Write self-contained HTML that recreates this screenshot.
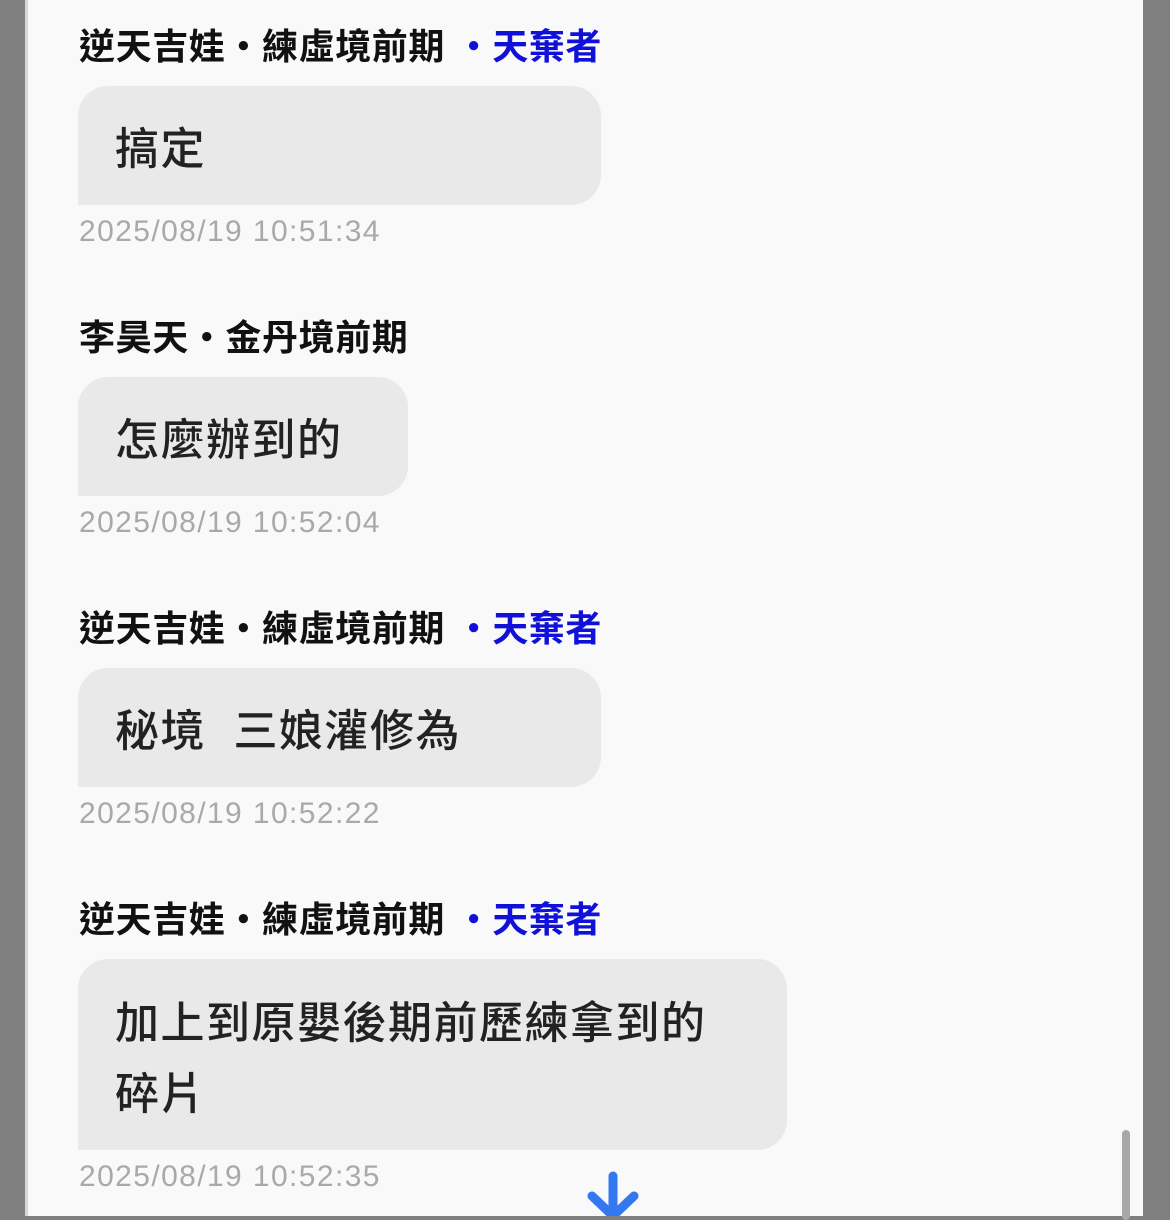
<!DOCTYPE html>
<html><head><meta charset="utf-8"><style>
html,body{margin:0;padding:0;width:1170px;height:1216px;overflow:hidden;background:#808080;}
.page{position:absolute;left:25px;top:0;width:1115px;height:1216px;background:#f9f9f9;border-left:3px solid #d8d8d8;}
.f{font-family:"Liberation Sans","Noto Sans CJK TC",sans-serif;}
.name{position:absolute;left:79px;font-size:36px;font-weight:bold;color:#111;line-height:40px;white-space:nowrap;letter-spacing:0.6px;}
.name span{color:#1010d8;}
.bub{position:absolute;left:78px;background:#e9e9e9;border-radius:30px 30px 30px 0;box-sizing:border-box;padding-left:37px;font-size:44px;font-weight:500;letter-spacing:1.5px;color:#222;line-height:71px;}
.ts{position:absolute;left:79px;font-size:30px;color:#a9a9a9;line-height:32px;letter-spacing:1.4px;}
</style></head><body>
<div class="page"></div>
<div class="f">
<div class="name" style="top:27px">逆天吉娃・練虛境前期 <span>・天棄者</span></div>
<div class="bub" style="top:86px;width:523px;height:119px;padding-top:28px">搞定</div>
<div class="ts" style="top:216px">2025/08/19 10:51:34</div>

<div class="name" style="top:318px">李昊天・金丹境前期</div>
<div class="bub" style="top:377px;width:330px;height:119px;padding-top:28px">怎麼辦到的</div>
<div class="ts" style="top:507px">2025/08/19 10:52:04</div>

<div class="name" style="top:609px">逆天吉娃・練虛境前期 <span>・天棄者</span></div>
<div class="bub" style="top:668px;width:523px;height:119px;padding-top:28px">秘境&nbsp;&nbsp;三娘灌修為</div>
<div class="ts" style="top:798px">2025/08/19 10:52:22</div>

<div class="name" style="top:900px">逆天吉娃・練虛境前期 <span>・天棄者</span></div>
<div class="bub" style="top:959px;width:709px;height:191px;padding-top:29px">加上到原嬰後期前歷練拿到的<br>碎片</div>
<div class="ts" style="top:1161px">2025/08/19 10:52:35</div>
</div>
<div style="position:absolute;left:1122px;top:1130px;width:8px;height:90px;background:#a8a8a8;border-radius:4px"></div>
<svg style="position:absolute;left:586px;top:1170px" width="54" height="46">
<line x1="27" y1="6" x2="27" y2="46" stroke="#3478f0" stroke-width="9" stroke-linecap="round"/>
<polyline points="6,26 27,46 48,26" fill="none" stroke="#3478f0" stroke-width="9" stroke-linecap="round" stroke-linejoin="round"/>
</svg>
</body></html>
